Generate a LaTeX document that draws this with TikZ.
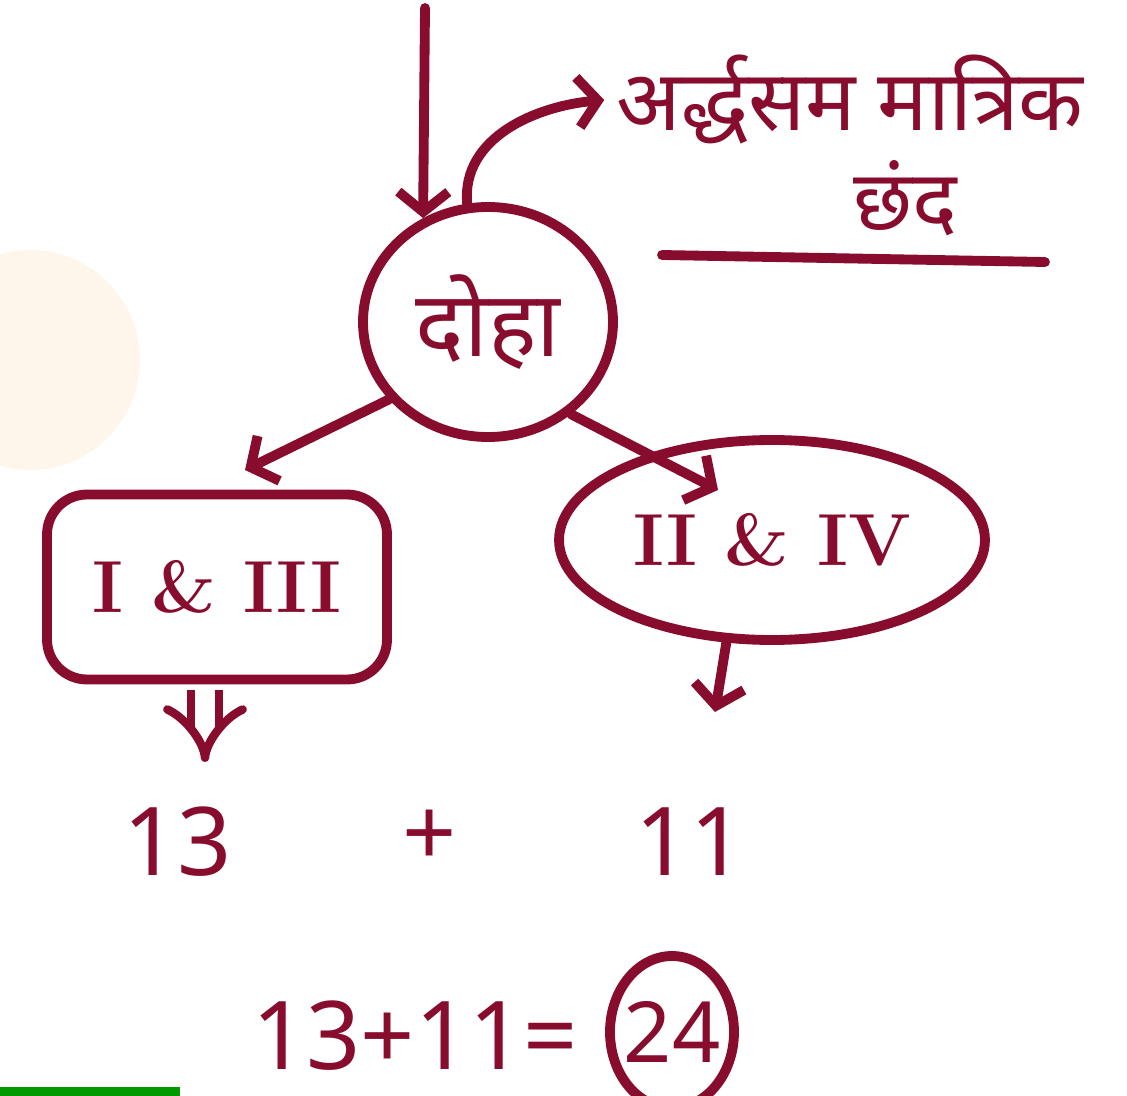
\documentclass[tikz,border=0pt]{standalone}
\usepackage{fontspec}
\usepackage{tikz}
\usetikzlibrary{positioning, shapes.geometric, arrows.meta}
\usepackage{xcolor}
\newfontfamily\devafont[Script=Devanagari]{Noto Sans}
\definecolor{ink}{RGB}{135,12,45}
\definecolor{wmark}{RGB}{255,232,205}

\begin{document}
\begin{tikzpicture}[x=0.1mm, y=-0.1mm,
  pen/.style={draw=ink, line width=2.8pt, line cap=round, line join=round},
  arr/.style={pen, -{Straight Barb[length=2mm, width=5mm, line width=2.8pt]}},
  dblarr/.style={draw=ink, line width=2.4pt, double=white, double distance=2mm, -{Implies[length=2mm]}},
  word/.style={text=ink, font=\devafont\fontsize{24}{28}\selectfont},
  roman/.style={text=ink, font=\bfseries\fontsize{21}{25}\selectfont},
  num/.style={text=ink, font=\devafont\fontsize{27}{31}\selectfont}
]
\useasboundingbox (0,0) rectangle (1127,1096);

% faint watermark
\fill[wmark, opacity=0.4] (30,360) circle (110);
\fill[green!60!black] (0,1087) rectangle (180,1096);

% metre label
\node[word] (ardh) at (850,100) {अर्द्धसम मात्रिक};
\node[word] (chhand) at (905,198) {छंद};
\coordinate (ulA) at (662,255);
\coordinate (ulB) at (1045,262);
\draw[pen] (ulA) -- (ulB);

% main node
\node[pen, ellipse, minimum width=25mm, minimum height=23mm, word, font=\devafont\fontsize{26}{30}\selectfont] (doha) at (488,322) {दोहा};
\coordinate (topin) at (425,8);
\draw[arr] (topin) -- (doha.122);
\draw[arr] (doha.100) to[out=95, in=185] (ardh.west);

% the two halves
\node[pen, rectangle, rounded corners=4mm, minimum width=34mm, minimum height=18.5mm, roman] (odd) at (217,587) {I \& III};
\node[pen, ellipse, minimum width=39mm, minimum height=20mm, roman] (even) at (772,540) {II \& IV};
\coordinate (oddtip) at (245,470);
\coordinate (eventip) at (718,490);
\draw[arr] (doha.218) -- (oddtip);
\draw[arr] (doha.312) -- (eventip);

% counts
\node[num] (n13) at (178,842) {13};
\node[num] (plus) at (430,838) {+};
\node[num] (n11) at (690,842) {11};
\draw[dblarr, shorten <=0.6mm] (odd.south) ++(-12,0) coordinate (dblstart) -- (dblstart |- 0,762);
\coordinate (evdown) at (715,712);
\draw[arr] (even.246) -- (evdown);

% total
\node[num] (sum) at (415,1036) {13+11=};
\node[num, font=\devafont\fontsize{24}{28}\selectfont] (total) at (672,1032) {24};
\draw[pen] (total.center) ellipse (62 and 76);

\end{tikzpicture}
\end{document}
